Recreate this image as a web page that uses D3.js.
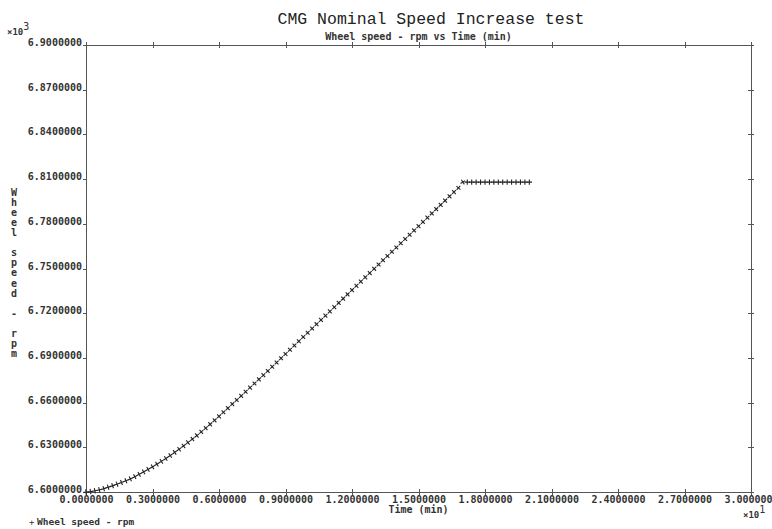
<!DOCTYPE html>
<html><head><meta charset="utf-8">
<script src="https://cdn.jsdelivr.net/npm/d3@7"></script>
<style>
html,body{margin:0;padding:0;background:#fff;}
svg{display:block;}
text{font-family:"DejaVu Sans Mono","Liberation Mono",monospace;}
</style></head>
<body>
<svg id="chart" width="772" height="529"></svg>
<script>
// ---- data (time in minutes, wheel speed in rpm) ----
const timeMin = [
 0.0,0.2,0.4,0.6,0.8,1.0,1.2,1.4,1.6,1.8,2.0,2.2,2.4,2.6,2.8,3.0,3.2,3.4,3.6,3.8,
 4.0,4.2,4.4,4.6,4.8,5.0,5.2,5.4,5.6,5.8,6.0,6.2,6.4,6.6,6.8,7.0,7.2,7.4,7.6,7.8,
 8.0,8.2,8.4,8.6,8.8,9.0,9.2,9.4,9.6,9.8,10.0,10.2,10.4,10.6,10.8,11.0,11.2,11.4,11.6,11.8,
 12.0,12.2,12.4,12.6,12.8,13.0,13.2,13.4,13.6,13.8,14.0,14.2,14.4,14.6,14.8,15.0,15.2,15.4,15.6,15.8,
 16.0,16.2,16.4,16.6,16.8,17.0,17.2,17.4,17.6,17.8,18.0,18.2,18.4,18.6,18.8,19.0,19.2,19.4,19.6,19.8,20.0
];
const wheelRpm = [
 6600.0,6600.3,6600.8,6601.45,6602.25,6603.2,6604.2,6605.25,6606.37,6607.55,
 6608.8,6610.3,6611.86,6613.48,6615.16,6616.9,6618.7,6620.58,6622.52,6624.52,
 6626.6,6628.74,6630.94,6633.2,6635.52,6637.9,6640.36,6642.89,6645.47,6648.11,
 6650.8,6653.52,6656.25,6658.99,6661.74,6664.5,6667.27,6670.05,6672.83,6675.61,
 6678.4,6681.22,6684.05,6686.89,6689.74,6692.6,6695.46,6698.32,6701.18,6704.04,
 6706.9,6709.76,6712.62,6715.48,6718.34,6721.2,6724.06,6726.92,6729.78,6732.64,
 6735.5,6738.36,6741.22,6744.08,6746.94,6749.8,6752.66,6755.52,6758.38,6761.24,
 6764.1,6766.96,6769.82,6772.68,6775.54,6778.4,6781.26,6784.12,6786.98,6789.84,
 6792.7,6795.56,6798.42,6801.28,6804.14,6808.0,6808.0,6808.0,6808.0,6808.0,
 6808.0,6808.0,6808.0,6808.0,6808.0,6808.0,6808.0,6808.0,6808.0,6808.0,6808.0
];
const xTicks = [0,3,6,9,12,15,18,21,24,27,30];
const yTicks = [6600,6630,6660,6690,6720,6750,6780,6810,6840,6870,6900];
const titleText = "CMG Nominal Speed Increase test";
const subtitleText = "Wheel speed - rpm vs Time (min)";
const xLabel = "Time (min)";
const yLabel = "Wheel speed - rpm";
const legendText = "Wheel speed - rpm";

// ---- layout ----
const L = 86, R = 751, T = 45, B = 492;
const svg = d3.select("#chart");
const x = d3.scaleLinear().domain([0, 30]).range([L, R]);
const y = d3.scaleLinear().domain([6600, 6900]).range([B, T]);
const axisCol = "#555", textCol = "#333";

// frame
svg.append("rect").attr("x", L).attr("y", T).attr("width", R - L).attr("height", B - T)
  .attr("fill", "none").attr("stroke", axisCol).attr("stroke-width", 1)
  .attr("shape-rendering", "crispEdges");

// axes via d3
const fmtX = v => (v / 10).toFixed(7);
const fmtY = v => (v / 1000).toFixed(7);

const gB = svg.append("g").attr("transform", `translate(0,${B})`)
  .call(d3.axisBottom(x).tickValues(xTicks).tickFormat(fmtX).tickSize(3).tickPadding(2));
const gT = svg.append("g").attr("transform", `translate(0,${T})`)
  .call(d3.axisTop(x).tickValues(xTicks).tickFormat("").tickSize(3));
const gTi = svg.append("g").attr("transform", `translate(0,${T})`)
  .call(d3.axisBottom(x).tickValues(xTicks).tickFormat("").tickSize(3));
const gL = svg.append("g").attr("transform", `translate(${L},0)`)
  .call(d3.axisLeft(y).tickValues(yTicks).tickFormat(fmtY).tickSize(3).tickPadding(1));
const gR = svg.append("g").attr("transform", `translate(${R},0)`)
  .call(d3.axisRight(y).tickValues(yTicks).tickFormat("").tickSize(3));
const gRi = svg.append("g").attr("transform", `translate(${R},0)`)
  .call(d3.axisLeft(y).tickValues(yTicks).tickFormat("").tickSize(3));
const gBi = svg.append("g").attr("transform", `translate(0,${B})`)
  .call(d3.axisTop(x).tickValues(xTicks).tickFormat("").tickSize(3));

[gB, gT, gTi, gL, gR, gRi, gBi].forEach(g => {
  g.select(".domain").remove();
  g.selectAll("line").attr("stroke", axisCol).attr("shape-rendering", "crispEdges");
  g.selectAll("text").attr("fill", textCol).style("font-size", "10px")
    .style("font-family", "'DejaVu Sans Mono', monospace").style("font-weight", "bold");
});
gL.selectAll("text").attr("dy", "0.05em");
gB.selectAll("text").attr("dy", "0.6em");

// titles
svg.append("text").attr("x", 431).attr("y", 24).attr("text-anchor", "middle")
  .style("font-family", "'Liberation Mono', monospace").style("font-size", "16.5px")
  .attr("fill", "#222").text(titleText);
svg.append("text").attr("x", (L + R) / 2).attr("y", 40).attr("text-anchor", "middle")
  .style("font-size", "10px").style("font-weight", "bold").attr("fill", textCol).text(subtitleText);

// x label
svg.append("text").attr("x", (L + R) / 2).attr("y", 513).attr("text-anchor", "middle")
  .style("font-size", "10px").style("font-weight", "bold").attr("fill", textCol).text(xLabel);

// multipliers
function multiplier(px, py, exp) {
  const t = svg.append("text").attr("x", px).attr("y", py).attr("fill", textCol)
    .style("font-size", "9px").style("font-weight", "bold");
  t.append("tspan").text("×10");
  t.append("tspan").attr("dy", -5).style("font-size", "10px").style("font-weight", "normal").text(exp);
}
multiplier(7, 35, "3");
multiplier(743, 518, "1");

// y label stacked vertically
svg.append("g").selectAll("text").data(yLabel.split(""))
  .join("text")
  .attr("x", 14).attr("y", (d, i) => 196 + i * 10.06)
  .attr("text-anchor", "middle")
  .style("font-size", "10px").style("font-weight", "bold").attr("fill", textCol)
  .text(d => d);

// legend
svg.append("text").attr("x", 29).attr("y", 525).style("font-size", "9px")
  .attr("fill", textCol).text("+");
svg.append("text").attr("x", 37).attr("y", 525).style("font-size", "9.5px").style("font-weight", "bold")
  .attr("fill", textCol).text(legendText);

// markers: "+" oriented along the local direction of the curve
const pts = timeMin.map((t, i) => ({ t, v: wheelRpm[i] }));
const n = pts.length;
const ms = 2.7;
svg.append("g").selectAll("path").data(pts).join("path")
  .attr("d", `M${-ms},0H${ms}M0,${-ms}V${ms}`)
  .attr("transform", (d, i) => {
    const a = pts[Math.max(0, i - 1)], b = pts[Math.min(n - 1, i + 1)];
    const ang = Math.atan2(y(b.v) - y(a.v), x(b.t) - x(a.t)) * 180 / Math.PI;
    return `translate(${x(d.t)},${y(d.v)}) rotate(${ang})`;
  })
  .attr("fill", "none").attr("stroke", "#222").attr("stroke-width", 1.1);
</script>
</body></html>
